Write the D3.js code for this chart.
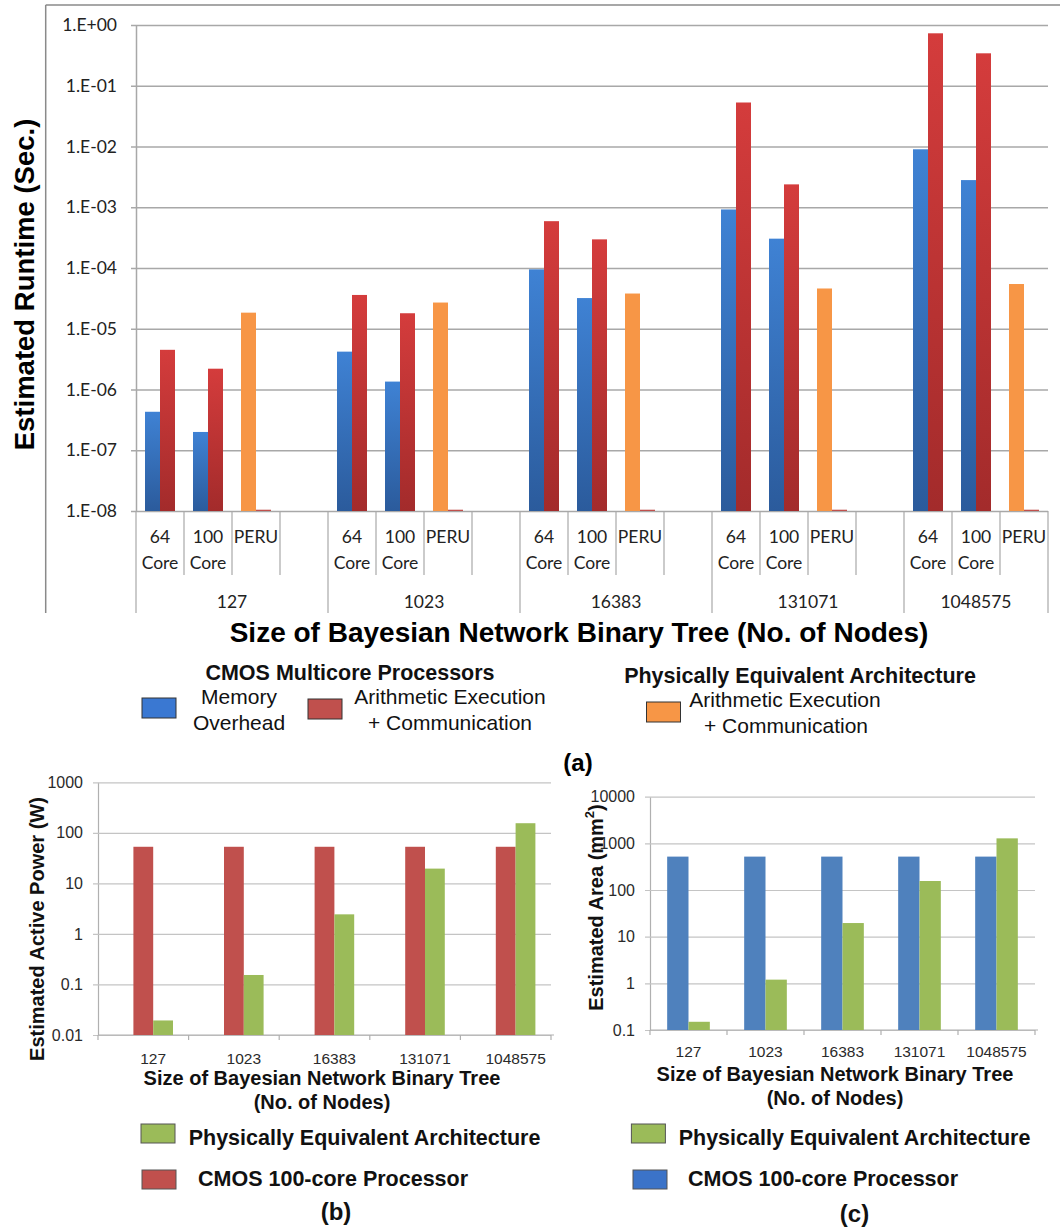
<!DOCTYPE html>
<html>
<head>
<meta charset="utf-8">
<script src="https://cdn.jsdelivr.net/npm/d3@7"></script>
<style>
  html, body { margin: 0; padding: 0; background: #fff; }
  svg { display: block; }
  .arial { font-family: "Liberation Sans", Arial, sans-serif; }
  .calibri { font-family: Lato, "Open Sans", sans-serif; }
</style>
</head>
<body>
<svg id="fig" width="1060" height="1232"></svg>
<script>
// ---------- (a) runtime data ----------
const treeSizes = ["127", "1023", "16383", "131071", "1048575"];
const platforms = ["64 Core", "100 Core", "PERU"];
const memory64   = [4.3e-7, 4.2e-6, 9.5e-5, 9.2e-4, 9.0e-3];
const arith64    = [4.5e-6, 3.6e-5, 5.9e-4, 5.3e-2, 0.73];
const memory100  = [2.0e-7, 1.35e-6, 3.2e-5, 3.04e-4, 2.8e-3];
const arith100   = [2.2e-6, 1.8e-5, 2.96e-4, 2.38e-3, 0.342];
const peruArith  = [1.84e-5, 2.7e-5, 3.8e-5, 4.6e-5, 5.45e-5];
const peruSecond = [1.05e-8, 1.05e-8, 1.05e-8, 1.05e-8, 1.05e-8];
const runtimeTicks = [1e-8, 1e-7, 1e-6, 1e-5, 1e-4, 1e-3, 1e-2, 1e-1, 1];
const runtimeTickLabels = ["1.E-08", "1.E-07", "1.E-06", "1.E-05", "1.E-04", "1.E-03", "1.E-02", "1.E-01", "1.E+00"];

// ---------- (b) power data ----------
const powerCmos = [53, 53, 53, 53, 53];
const powerPea  = [0.0194, 0.154, 2.44, 19.6, 155];
const powerTicks = [0.01, 0.1, 1, 10, 100, 1000];
const powerTickLabels = ["0.01", "0.1", "1", "10", "100", "1000"];

// ---------- (c) area data ----------
const areaCmos = [520, 520, 520, 520, 520];
const areaPea  = [0.15, 1.2, 19.6, 156, 1280];
const areaTicks = [0.1, 1, 10, 100, 1000, 10000];
const areaTickLabels = ["0.1", "1", "10", "100", "1000", "10000"];

const svg = d3.select("#fig");
const defs = svg.append("defs");

function vGrad(id, top, bottom) {
  const g = defs.append("linearGradient").attr("id", id)
    .attr("x1", 0).attr("y1", 0).attr("x2", 0).attr("y2", 1);
  g.append("stop").attr("offset", "0%").attr("stop-color", top);
  g.append("stop").attr("offset", "100%").attr("stop-color", bottom);
}
vGrad("gBlue", "#3f82d4", "#2b5b9c");
vGrad("gRed", "#d43c3c", "#a32b2b");

const GRID = "#a8a8a8";

// ================= (a) =================
(function runtimeChart() {
  const g = svg.append("g");
  // outer frame
  g.append("line").attr("x1", 45.7).attr("x2", 1060).attr("y1", 5).attr("y2", 5)
    .attr("stroke", "#8a8a8a").attr("stroke-width", 1.5);
  g.append("line").attr("x1", 45.7).attr("x2", 45.7).attr("y1", 5).attr("y2", 613)
    .attr("stroke", "#8a8a8a").attr("stroke-width", 1.5);

  // slots: every group has three platforms followed by an empty spacer (except the last)
  const slots = [];
  treeSizes.forEach((s, gi) => {
    platforms.forEach(p => slots.push({ key: s + "|" + p, group: gi, platform: p }));
    if (gi < treeSizes.length - 1) slots.push({ key: s + "|gap", group: gi, platform: null });
  });

  const x = d3.scaleBand().domain(slots.map(d => d.key)).range([136, 1048]);
  const inner = d3.scaleBand().domain(["first", "second"]).range([0, x.bandwidth()]).paddingOuter(0.6);
  const y = d3.scaleLog().domain([1e-8, 1]).range([511, 25]);

  // gridlines + y axis
  const yAxis = d3.axisLeft(y).tickValues(runtimeTicks)
    .tickFormat((d, i) => runtimeTickLabels[i]).tickSizeInner(5).tickSizeOuter(0).tickPadding(14);
  const ya = g.append("g").attr("transform", "translate(136,0)").call(yAxis);
  ya.select(".domain").attr("stroke", GRID).attr("stroke-width", 1.5);
  ya.selectAll(".tick line").attr("x2", 1048 - 136).attr("x1", -5).attr("stroke", GRID).attr("stroke-width", 1.5);
  ya.selectAll(".tick text").attr("class", "calibri").attr("font-size", 17.5).attr("fill", "#222");

  // bars
  const bars = [];
  treeSizes.forEach((s, gi) => {
    bars.push({ slot: s + "|64 Core", pos: "first", v: memory64[gi], fill: "url(#gBlue)" });
    bars.push({ slot: s + "|64 Core", pos: "second", v: arith64[gi], fill: "url(#gRed)" });
    bars.push({ slot: s + "|100 Core", pos: "first", v: memory100[gi], fill: "url(#gBlue)" });
    bars.push({ slot: s + "|100 Core", pos: "second", v: arith100[gi], fill: "url(#gRed)" });
    bars.push({ slot: s + "|PERU", pos: "first", v: peruArith[gi], fill: "#f79646" });
    bars.push({ slot: s + "|PERU", pos: "second", v: peruSecond[gi], fill: "#c0504d" });
  });
  g.append("g").selectAll("rect").data(bars).join("rect")
    .attr("x", d => x(d.slot) + inner(d.pos))
    .attr("width", inner.bandwidth())
    .attr("y", d => y(d.v))
    .attr("height", d => y(1e-8) - y(d.v))
    .attr("fill", d => d.fill);

  // category dividers
  const bounds = slots.map((d, i) => ({ xPos: x(d.key), long: i === 0 || d.group !== slots[i - 1].group }));
  bounds.push({ xPos: x.range()[1], long: true });
  g.append("g").selectAll("line").data(bounds).join("line")
    .attr("x1", d => d.xPos).attr("x2", d => d.xPos)
    .attr("y1", y(1e-8)).attr("y2", d => d.long ? 613 : 575)
    .attr("stroke", GRID).attr("stroke-width", 1.2);

  // platform labels
  const lab = g.append("g").attr("class", "calibri").attr("font-size", 17.5).attr("fill", "#222")
    .attr("text-anchor", "middle");
  slots.filter(d => d.platform).forEach(d => {
    const cx = x(d.key) + x.bandwidth() / 2;
    const parts = d.platform.split(" ");
    parts.forEach((t, j) => {
      lab.append("text").attr("x", cx).attr("y", 543 + j * 26).text(t);
    });
  });
  // group labels
  treeSizes.forEach((s, gi) => {
    const gs = slots.filter(d => d.group === gi);
    const x0 = x(gs[0].key);
    const x1 = gi < treeSizes.length - 1 ? x(gs[gs.length - 1].key) + x.bandwidth() : x.range()[1];
    lab.append("text").attr("x", (x0 + x1) / 2).attr("y", 607.5).text(s);
  });

  // axis titles
  g.append("text").attr("class", "arial").attr("font-weight", "bold").attr("font-size", 27.5)
    .attr("text-anchor", "middle").attr("transform", "translate(33.5,284.5) rotate(-90)")
    .text("Estimated Runtime (Sec.)");
  g.append("text").attr("class", "arial").attr("font-weight", "bold").attr("font-size", 28)
    .attr("text-anchor", "middle").attr("x", 579).attr("y", 642)
    .text("Size of Bayesian Network Binary Tree (No. of Nodes)");

  // legend
  const lg = g.append("g").attr("class", "arial").attr("fill", "#111");
  lg.append("text").attr("x", 350).attr("y", 679.5).attr("text-anchor", "middle")
    .attr("font-weight", "bold").attr("font-size", 21.5).text("CMOS Multicore Processors");
  lg.append("text").attr("x", 800).attr("y", 682.5).attr("text-anchor", "middle")
    .attr("font-weight", "bold").attr("font-size", 21.5).text("Physically Equivalent Architecture");
  const sw = [
    { x: 142, y: 698, fill: "#3a78d2" },
    { x: 308, y: 699, fill: "#c0504d" },
    { x: 646.5, y: 702, fill: "#f79646" }
  ];
  lg.selectAll("rect").data(sw).join("rect")
    .attr("x", d => d.x).attr("y", d => d.y).attr("width", 34).attr("height", 20)
    .attr("fill", d => d.fill).attr("stroke", "#333").attr("stroke-width", 1);
  const lt = [
    { x: 239, y: 704, t: "Memory" }, { x: 239, y: 730, t: "Overhead" },
    { x: 450, y: 704, t: "Arithmetic Execution" }, { x: 450, y: 730, t: "+ Communication" },
    { x: 785, y: 707, t: "Arithmetic Execution" }, { x: 786, y: 733, t: "+ Communication" }
  ];
  lg.selectAll("text.item").data(lt).join("text").attr("class", "item")
    .attr("x", d => d.x).attr("y", d => d.y).attr("text-anchor", "middle")
    .attr("font-size", 21).text(d => d.t);
  g.append("text").attr("class", "arial").attr("font-weight", "bold").attr("font-size", 24)
    .attr("text-anchor", "middle").attr("x", 578).attr("y", 771).text("(a)");
})();

// ================= (b) and (c) =================
function smallChart(o) {
  const g = svg.append("g");
  const x = d3.scaleBand().domain(treeSizes).range(o.xRange);
  const y = d3.scaleLog().domain([o.ticks[0], o.ticks[o.ticks.length - 1]]).range(o.yRange);
  const [left, right] = o.xRange;
  const base = o.yRange[0];
  const barW = x.bandwidth() * o.barFrac;

  // gridlines and y axis
  const yAxis = d3.axisLeft(y).tickValues(o.ticks).tickFormat((d, i) => o.tickLabels[i])
    .tickSizeInner(5).tickSizeOuter(0).tickPadding(10);
  const ya = g.append("g").attr("transform", `translate(${left},0)`).call(yAxis);
  ya.select(".domain").attr("stroke", "#b0b0b0").attr("stroke-width", 1.2);
  ya.selectAll(".tick line").attr("x1", -5).attr("x2", right - left).attr("stroke", "#c4c4c4").attr("stroke-width", 1.2);
  ya.selectAll(".tick text").attr("class", "arial").attr("font-size", 16).attr("fill", "#2a2a2a");

  // x baseline with category ticks
  g.append("line").attr("x1", left).attr("x2", right + 3).attr("y1", base).attr("y2", base)
    .attr("stroke", "#b0b0b0").attr("stroke-width", 1.2);
  const edges = treeSizes.map(s => x(s)).concat([right]);
  g.append("g").selectAll("line").data(edges).join("line")
    .attr("x1", d => d).attr("x2", d => d).attr("y1", base).attr("y2", base + 5)
    .attr("stroke", "#b0b0b0").attr("stroke-width", 1.2);

  // bars
  const rows = [];
  treeSizes.forEach((s, i) => {
    const c = x(s) + x.bandwidth() / 2 + o.shift * barW;
    rows.push({ x: c - barW, v: o.cmos[i], fill: o.cmosColor });
    rows.push({ x: c, v: o.pea[i], fill: "#9bbb59" });
  });
  g.append("g").selectAll("rect").data(rows).join("rect")
    .attr("x", d => d.x).attr("width", barW)
    .attr("y", d => y(d.v)).attr("height", d => base - y(d.v))
    .attr("fill", d => d.fill);

  // category labels
  g.append("g").attr("class", "arial").attr("font-size", 15.5).attr("fill", "#2a2a2a").attr("text-anchor", "middle")
    .selectAll("text").data(treeSizes).join("text")
    .attr("x", d => x(d) + x.bandwidth() / 2 + o.shift * barW).attr("y", o.catY).text(d => d);

  // titles
  const t = g.append("g").attr("class", "arial").attr("font-weight", "bold").attr("fill", "#111");
  const yt = t.append("text").attr("font-size", 20).attr("text-anchor", "middle")
    .attr("transform", `translate(${o.yTitle[0]},${o.yTitle[1]}) rotate(-90)`);
  o.yTitleParts(yt);
  t.append("text").attr("font-size", 20).attr("text-anchor", "middle")
    .attr("x", o.xTitleX).attr("y", o.xTitleY).text("Size of Bayesian Network Binary Tree");
  t.append("text").attr("font-size", 20).attr("text-anchor", "middle")
    .attr("x", o.xTitleX).attr("y", o.xTitleY + 24).text("(No. of Nodes)");

  // legend
  g.append("rect").attr("x", o.leg1[0]).attr("y", 1124).attr("width", 34).attr("height", 19)
    .attr("fill", "#9bbb59").attr("stroke", "#555").attr("stroke-width", 1);
  t.append("text").attr("font-size", 21.5).attr("x", o.leg1[1]).attr("y", 1144.5)
    .text("Physically Equivalent Architecture");
  g.append("rect").attr("x", o.leg2[0]).attr("y", 1170).attr("width", 34).attr("height", 19)
    .attr("fill", o.legColor).attr("stroke", "#555").attr("stroke-width", 1);
  t.append("text").attr("font-size", 21.5).attr("x", o.leg2[1]).attr("y", 1186)
    .text("CMOS 100-core Processor");
  t.append("text").attr("font-size", 24).attr("text-anchor", "middle")
    .attr("x", o.tag[0]).attr("y", o.tag[1]).text(o.tag[2]);
}

smallChart({
  xRange: [98, 551], yRange: [1035, 782.3], ticks: powerTicks, tickLabels: powerTickLabels,
  cmos: powerCmos, pea: powerPea, cmosColor: "#c0504d", legColor: "#c0504d",
  barFrac: 0.2185, shift: 0.5, catY: 1064,
  yTitle: [43.5, 929], yTitleParts: s => s.text("Estimated Active Power (W)"),
  xTitleX: 322, xTitleY: 1085,
  leg1: [141, 188.7], leg2: [142, 198], tag: [336, 1220, "(b)"]
});

smallChart({
  xRange: [650, 1035], yRange: [1030, 796.7], ticks: areaTicks, tickLabels: areaTickLabels,
  cmos: areaCmos, pea: areaPea, cmosColor: "#4f81bd", legColor: "#3b73c8",
  barFrac: 0.277, shift: 0, catY: 1057,
  yTitle: [602.5, 907.5],
  yTitleParts: s => {
    s.append("tspan").text("Estimated Area (mm");
    s.append("tspan").attr("font-size", 13).attr("dy", -9).text("2");
    s.append("tspan").attr("dy", 9).text(")");
  },
  xTitleX: 835, xTitleY: 1081,
  leg1: [631.4, 678.7], leg2: [633, 688], tag: [854.5, 1222, "(c)"]
});
</script>
</body>
</html>
